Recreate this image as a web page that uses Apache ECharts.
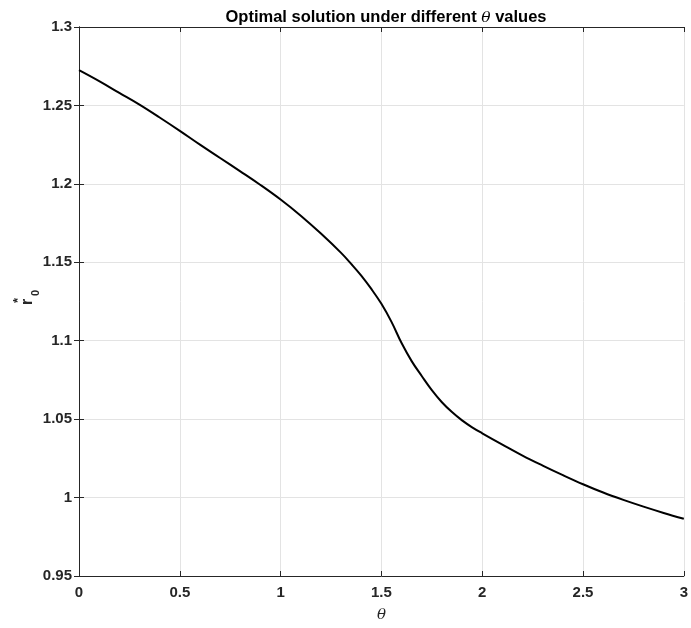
<!DOCTYPE html>
<html>
<head>
<meta charset="utf-8">
<script src="https://cdn.jsdelivr.net/npm/echarts@6/dist/echarts.min.js"></script>
<style>
  html, body { margin: 0; padding: 0; background: #fff; }
  #chart { width: 691px; height: 628px; }
</style>
</head>
<body>
<div id="chart"></div>
<script>
// theta values and the optimal r0* at each of them
const theta = [0, 0.1, 0.2, 0.3, 0.4, 0.5, 0.6, 0.7, 0.8, 0.9, 1.0, 1.1, 1.2, 1.3, 1.35, 1.4, 1.45, 1.5,
  1.55, 1.6, 1.65, 1.7, 1.75, 1.8, 1.85, 1.9, 1.95, 2.0, 2.1, 2.2, 2.3, 2.4, 2.5, 2.6, 2.7, 2.8, 2.9, 3.0];
const r0Star = [1.2725, 1.2655, 1.2580, 1.2505, 1.2423, 1.2338, 1.2250, 1.2165, 1.2080, 1.1993, 1.1900,
  1.1797, 1.1683, 1.1560, 1.1490, 1.1415, 1.1330, 1.1235, 1.1120, 1.0985, 1.0870, 1.0775, 1.0685,
  1.0608, 1.0545, 1.0492, 1.0448, 1.0410, 1.0338, 1.0268, 1.0204, 1.0143, 1.0085, 1.0032, 0.9985,
  0.9942, 0.9902, 0.9865];
const xTicks = [0, 0.5, 1, 1.5, 2, 2.5, 3];
const yTicks = [0.95, 1, 1.05, 1.1, 1.15, 1.2, 1.25, 1.3];

const axisColor = '#262626';
const gridColor = '#e3e3e3';
const font = 'Helvetica, Arial, "Liberation Sans", sans-serif';

const points = theta.map((t, i) => [t, r0Star[i]]);

const chart = echarts.init(document.getElementById('chart'), null, { renderer: 'canvas' });

function boxAxis(extra) {
  return Object.assign({
    axisLine: { show: true, lineStyle: { color: axisColor, width: 1 } },
    axisTick: { show: true, inside: true, length: 5, lineStyle: { color: axisColor, width: 1 } },
    splitLine: { show: false },
    axisLabel: { show: false }
  }, extra);
}

chart.setOption({
  animation: false,
  backgroundColor: '#ffffff',
  title: {
    text: 'Optimal solution under different {it|θ} values',
    left: 381,
    textAlign: 'center',
    top: 4,
    textStyle: {
      fontFamily: font,
      fontWeight: 'bold',
      fontSize: 16.5,
      color: '#000',
      rich: {
        it: { fontFamily: '"DejaVu Serif", serif', fontStyle: 'italic', fontWeight: 'normal', fontSize: 15.5, color: '#000' }
      }
    }
  },
  grid: { left: 79, right: 7, top: 27, bottom: 51, containLabel: false },
  xAxis: [
    boxAxis({
      type: 'value', position: 'bottom', min: 0, max: 3, interval: 0.5,
      name: 'θ', nameLocation: 'middle', nameGap: 32,
      nameTextStyle: { fontFamily: '"DejaVu Serif", serif', fontStyle: 'italic', fontSize: 15, color: axisColor },
      axisLabel: {
        show: true, margin: 9, color: axisColor, fontFamily: font, fontSize: 15, fontWeight: 'bold',
        showMinLabel: true, showMaxLabel: true,
        formatter: v => xTicks.includes(+v.toFixed(2)) ? String(+v.toFixed(2)) : ''
      },
      splitLine: { show: true, lineStyle: { color: gridColor, width: 1 } }
    }),
    boxAxis({ type: 'value', position: 'top', min: 0, max: 3, interval: 0.5 })
  ],
  yAxis: [
    boxAxis({
      type: 'value', position: 'left', min: 0.95, max: 1.3, interval: 0.05,
      axisLabel: {
        show: true, margin: 7, color: axisColor, fontFamily: font, fontSize: 15, fontWeight: 'bold',
        showMinLabel: true, showMaxLabel: true,
        formatter: v => {
          const r = +v.toFixed(2);
          return yTicks.includes(r) ? String(r) : '';
        }
      },
      splitLine: { show: true, lineStyle: { color: gridColor, width: 1 } }
    }),
    boxAxis({ type: 'value', position: 'right', min: 0.95, max: 1.3, interval: 0.05 })
  ],
  graphic: [
    {
      type: 'group',
      left: 12, top: 290,
      children: [
        { type: 'text', x: 0, y: 22, rotation: Math.PI / 2,
          style: { text: '*', font: 'bold 13px ' + font, fill: axisColor } },
        { type: 'text', x: 8, y: 24, rotation: Math.PI / 2,
          style: { text: 'r', font: 'bold 16px ' + font, fill: axisColor } },
        { type: 'text', x: 18, y: 15, rotation: Math.PI / 2,
          style: { text: '0', font: 'bold 11px ' + font, fill: axisColor } }
      ]
    }
  ],
  series: [{
    type: 'line',
    data: points,
    xAxisIndex: 0,
    yAxisIndex: 0,
    showSymbol: false,
    smooth: 0.4,
    lineStyle: { color: '#000', width: 2 },
    silent: true
  }]
});
</script>
</body>
</html>
